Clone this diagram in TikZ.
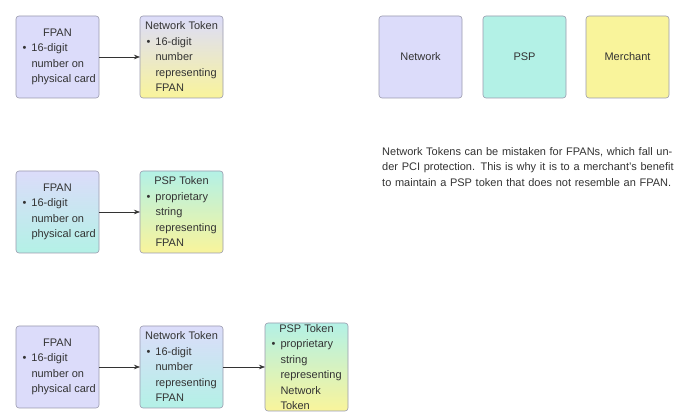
\documentclass[tikz,border=0pt]{standalone}
\usepackage{fontspec}
\setmainfont{Liberation Sans}
\usetikzlibrary{arrows.meta}
\definecolor{cpur}{HTML}{DCDCFA}
\definecolor{ccya}{HTML}{B3F1E6}
\definecolor{cyel}{HTML}{F9F49B}
\definecolor{cbd}{HTML}{9A9AAE}
\definecolor{ctx}{HTML}{333333}
\newcommand{\bxtext}[2]{\parbox{80pt}{\fontsize{11}{15.5}\selectfont\color{ctx}\centering #1\par\raggedright\leftskip=14pt\parindent=-9pt\makebox[9pt][l]{\textbullet}#2\par}}
\begin{document}
\begin{tikzpicture}[x=1pt,y=-1pt,
  bx/.style={draw=cbd,line width=0.6pt,rounded corners=3pt},
  lbl/.style={inner sep=0pt},
  arr/.style={draw=ctx,line width=0.6pt,-{Stealth[length=6pt,width=4.5pt]}}]
\useasboundingbox (0,0) rectangle (680,419);
\fill[white] (0,0) rectangle (680,419);
% row 1
\shade[bx,top color=cpur,bottom color=cpur] (16,16) rectangle (99,98);
\node[lbl] (f1) at (57.5,57) {\bxtext{FPAN}{16-digit number on physical card}};
\shade[bx,top color=cpur,middle color=ccya,bottom color=cyel] (140,16) rectangle (223,98);
\node[lbl] (n1) at (181.5,57) {\bxtext{Network Token}{16-digit number representing FPAN}};
\coordinate (f1r) at (99,57); \coordinate (n1l) at (140,57);
\draw[arr] (f1r) -- (n1l);
% legend
\fill[cpur,draw=cbd,line width=0.6pt,rounded corners=3pt] (379,16) rectangle (462,98);
\node[lbl,font=\fontsize{11}{13}\selectfont,text=ctx] (lg1) at (420.5,57) {Network};
\fill[ccya,draw=cbd,line width=0.6pt,rounded corners=3pt] (483,16) rectangle (566,98);
\node[lbl,font=\fontsize{11}{13}\selectfont,text=ctx] (lg2) at (524.5,57) {PSP};
\fill[cyel,draw=cbd,line width=0.6pt,rounded corners=3pt] (586,16) rectangle (669,98);
\node[lbl,font=\fontsize{11}{13}\selectfont,text=ctx] (lg3) at (627.5,57) {Merchant};
% note
\node[lbl,anchor=north west,text width=295pt,align=left,font=\fontsize{11}{15.5}\selectfont,text=ctx] (note) at (382,147) {Network Tokens can be mistaken for FPANs, which fall under PCI protection. This is why it is to a merchant's benefit to maintain a PSP token that does not resemble an FPAN.};
% row 2
\shade[bx,top color=cpur,bottom color=ccya] (16,171) rectangle (99,253);
\node[lbl] (f2) at (57.5,212) {\bxtext{FPAN}{16-digit number on physical card}};
\shade[bx,top color=ccya,bottom color=cyel] (140,171) rectangle (223,253);
\node[lbl] (p2) at (181.5,212) {\bxtext{PSP Token}{proprietary string representing FPAN}};
\coordinate (f2r) at (99,212); \coordinate (p2l) at (140,212);
\draw[arr] (f2r) -- (p2l);
% row 3
\shade[bx,top color=cpur,bottom color=cpur] (16,326) rectangle (99,408);
\node[lbl] (f3) at (57.5,367) {\bxtext{FPAN}{16-digit number on physical card}};
\shade[bx,top color=cpur,bottom color=ccya] (140,326) rectangle (223,408);
\node[lbl] (n3) at (181.5,367) {\bxtext{Network Token}{16-digit number representing FPAN}};
\shade[bx,top color=ccya,bottom color=cyel] (265,323) rectangle (348,411);
\node[lbl] (p3) at (306.5,367) {\bxtext{PSP Token}{proprietary string representing Network Token}};
\coordinate (f3r) at (99,367); \coordinate (n3l) at (140,367);
\coordinate (n3r) at (223,367); \coordinate (p3l) at (265,367);
\draw[arr] (f3r) -- (n3l);
\draw[arr] (n3r) -- (p3l);
\end{tikzpicture}
\end{document}
